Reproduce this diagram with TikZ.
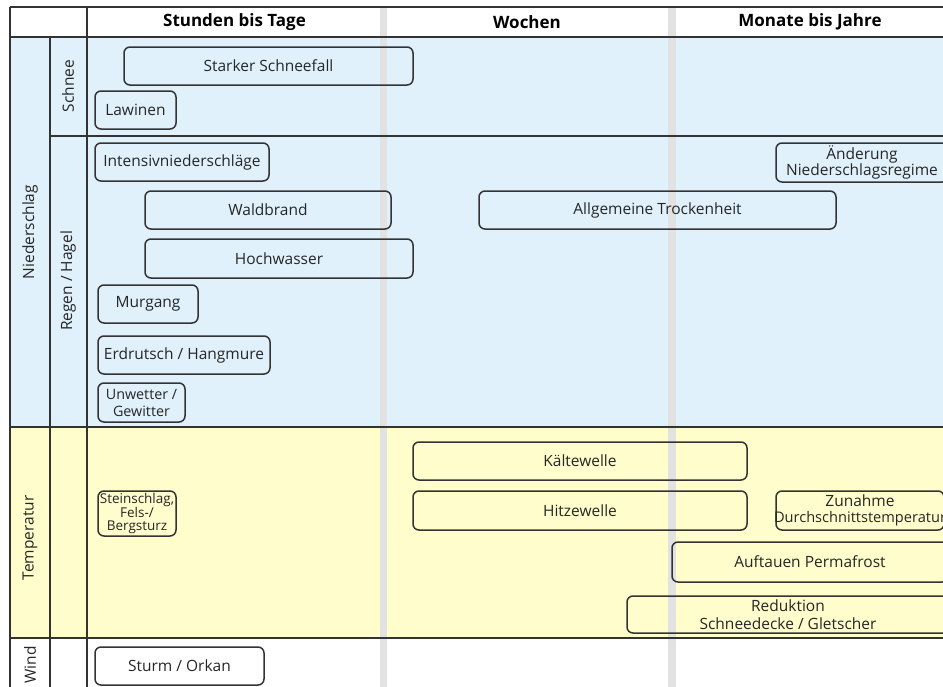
\documentclass[tikz,border=0pt]{standalone}
\usepackage{fontspec}
\setmainfont{Open Sans}
\definecolor{bgblue}{HTML}{E0F1FC}
\definecolor{bgyellow}{HTML}{FFFDCB}
\definecolor{band}{HTML}{E2E2E2}
\definecolor{ln}{HTML}{333333}
\definecolor{tx}{HTML}{262626}
\tikzset{
  grid/.style={draw=ln, line width=1.3pt},
  evbox/.style={draw=ln, line width=1.5pt, rounded corners=6pt, text=tx, align=center, inner sep=1pt, font=\fontsize{15.5}{16.5}\selectfont},
  smallbox/.style={evbox, font=\fontsize{14.3}{17}\selectfont},
  hdr/.style={text=black, font=\bfseries\fontsize{17}{19}\selectfont},
  side/.style={text=tx, rotate=90, font=\fontsize{15.5}{17}\selectfont}
}
\begin{document}
\begin{tikzpicture}[x=1pt,y=-1pt]
\useasboundingbox (0,0) rectangle (943,686);
\clip (0,0) rectangle (943,686);
\fill[white] (0,0) rectangle (943,686);
% backgrounds
\fill[bgblue] (10,37) rectangle (960,427);
\fill[bgyellow] (10,427) rectangle (960,638);
% bands
\fill[band] (380,7) rectangle (387,700);
\fill[band] (668,7) rectangle (676,700);
% grid
\draw[grid] (10,7) -- (960,7);
\draw[grid] (10,37) -- (960,37);
\draw[grid] (50,136) -- (960,136);
\draw[grid] (10,427) -- (960,427);
\draw[grid] (10,638) -- (960,638);
\draw[grid] (10,7) -- (10,700);
\draw[grid] (50,37) -- (50,700);
\draw[grid] (87,7) -- (87,700);
% headers
\node[hdr] (h1) at (234.5,22) {Stunden bis Tage};
\node[hdr] (h2) at (527,22) {Wochen};
\node[hdr] (h3) at (810,22) {Monate bis Jahre};
% side labels
\node[side] (lniedersch) at (30,232) {Niederschlag};
\node[side] (lschnee) at (68,86) {Schnee};
\node[side] (lregen) at (68,281) {Regen / Hagel};
\node[side] (ltemp) at (30,538) {Temperatur};
\node[side] (lwind) at (30,665) {Wind};
% boxes
\node[evbox, minimum width=289, minimum height=38] (schneefall) at (268.5,66) {Starker Schneefall};
\node[evbox, minimum width=81, minimum height=38] (lawinen) at (135.5,110) {Lawinen};
\node[evbox, minimum width=174, minimum height=38] (intensiv) at (182,162) {Intensivniederschläge};
\node[evbox, minimum width=246, minimum height=38] (waldbrand) at (268,210) {Waldbrand};
\node[evbox, minimum width=268, minimum height=39] (hochwasser) at (279,258.5) {Hochwasser};
\node[evbox, minimum width=100, minimum height=38] (murgang) at (148,304) {Murgang};
\node[evbox, minimum width=172, minimum height=38] (erdrutsch) at (184,355) {Erdrutsch / Hangmure};
\node[smallbox, minimum width=87, minimum height=39] (unwetter) at (141.5,402.5) {Unwetter /\\Gewitter};
\node[evbox, minimum width=172, minimum height=39] (aenderung) at (862,162.5) {Änderung\\\makebox[0pt]{Niederschlagsregime}};
\node[evbox, minimum width=357, minimum height=38] (trocken) at (657.5,210) {Allgemeine Trockenheit};
\node[evbox, minimum width=334, minimum height=38] (kaelte) at (580,461) {Kältewelle};
\node[evbox, minimum width=334, minimum height=39] (hitze) at (580,510.5) {Hitzewelle};
\node[evbox, minimum width=168, minimum height=39] (zunahme) at (860,510.5) {Zunahme\\\makebox[0pt]{\fontsize{14.6}{16.5}\selectfont Durchschnittstemperatur}};
\node[evbox, minimum width=276, minimum height=40] (permafrost) at (810,562) {Auftauen Permafrost};
\node[evbox, minimum width=322, minimum height=37, font=\fontsize{15.5}{18}\selectfont] (reduktion) at (788,614.5) {Reduktion\\Schneedecke / Gletscher};
\node[evbox, minimum width=78, minimum height=45, font=\fontsize{13.5}{13.5}\selectfont] (steinschlag) at (137,513.5) {\makebox[0pt]{Steinschlag,}\\Fels-/\\Bergsturz};
\node[evbox, minimum width=169, minimum height=38] (sturm) at (179.5,666) {Sturm / Orkan};
\end{tikzpicture}
\end{document}
